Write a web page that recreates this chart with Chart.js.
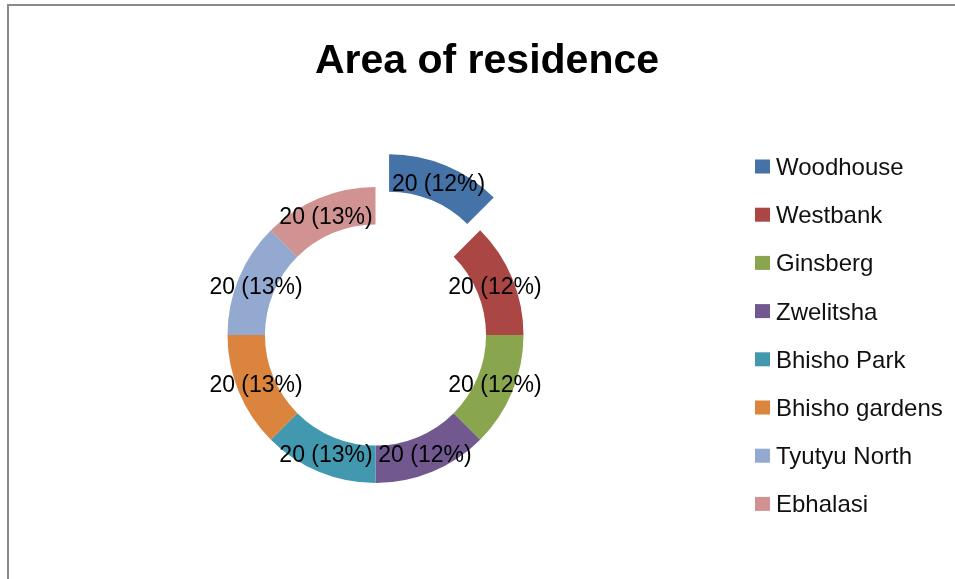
<!DOCTYPE html>
<html>
<head>
<meta charset="utf-8">
<title>Area of residence</title>
<script src="https://cdn.jsdelivr.net/npm/chart.js@4.4.1/dist/chart.umd.min.js"></script>
<style>
  html, body { margin: 0; padding: 0; background: #ffffff; }
  #wrap { position: relative; width: 955px; height: 579px; }
</style>
</head>
<body>
<div id="wrap"><canvas id="c" width="955" height="579"></canvas></div>
<script>
// Respondents by area of residence
const areas = ['Woodhouse', 'Westbank', 'Ginsberg', 'Zwelitsha', 'Bhisho Park', 'Bhisho gardens', 'Tyutyu North', 'Ebhalasi'];
const respondents = [20, 20, 20, 20, 20, 20, 20, 20];
const sharePercent = [12, 12, 12, 12, 13, 13, 13, 13];
const chartTitle = 'Area of residence';

const colours = ['#4572A7', '#AA4643', '#89A54E', '#71588F', '#4198AF', '#DB843D', '#93A9CF', '#D19392'];
// distance (px) a segment is pulled out of the ring
const explodeDistance = [35.5, 0, 0, 0, 0, 0, 0, 0];

const FONT = '"Liberation Sans", Arial, sans-serif';

// White background and the grey frame around the chart
const framePlugin = {
  id: 'frame',
  beforeDraw(chart) {
    const ctx = chart.ctx;
    ctx.save();
    ctx.fillStyle = '#ffffff';
    ctx.fillRect(0, 0, chart.width, chart.height);
    ctx.strokeStyle = '#8a8a8a';
    ctx.lineWidth = 2;
    ctx.beginPath();
    ctx.moveTo(8, chart.height + 5);
    ctx.lineTo(8, 5);
    ctx.lineTo(chart.width + 5, 5);
    ctx.stroke();
    ctx.restore();
  }
};

// Pull exploded segments outward along their middle angle, keeping their radii
const explodePlugin = {
  id: 'explode',
  afterDatasetUpdate(chart, args) {
    args.meta.data.forEach((arc, i) => {
      const d = explodeDistance[i] || 0;
      if (!d) return;
      const mid = (arc.startAngle + arc.endAngle) / 2;
      arc.x += Math.cos(mid) * d;
      arc.y += Math.sin(mid) * d;
    });
  }
};

// "value (share%)" written in the middle of each ring segment
const sliceLabelPlugin = {
  id: 'sliceLabels',
  afterDatasetsDraw(chart) {
    const ctx = chart.ctx;
    const meta = chart.getDatasetMeta(0);
    const values = chart.data.datasets[0].data;
    ctx.save();
    ctx.font = '23px ' + FONT;
    ctx.fillStyle = '#000000';
    ctx.textAlign = 'center';
    ctx.textBaseline = 'alphabetic';
    meta.data.forEach((arc, i) => {
      const mid = (arc.startAngle + arc.endAngle) / 2;
      const r = (arc.innerRadius + arc.outerRadius) / 2;
      const lx = arc.x + Math.cos(mid) * r;
      const ly = arc.y + Math.sin(mid) * r;
      ctx.fillText(values[i] + ' (' + sharePercent[i] + '%)', lx, ly + 8);
    });
    ctx.restore();
  }
};

// Title and the legend column on the right
const headerLegendPlugin = {
  id: 'headerLegend',
  afterDraw(chart) {
    const ctx = chart.ctx;
    const ds = chart.data.datasets[0];
    ctx.save();
    ctx.fillStyle = '#000000';
    ctx.font = 'bold 41px ' + FONT;
    ctx.textAlign = 'center';
    ctx.textBaseline = 'alphabetic';
    ctx.fillText(chartTitle, 487, 73);

    ctx.font = '24px ' + FONT;
    ctx.textAlign = 'left';
    chart.data.labels.forEach((label, i) => {
      const cy = 166.5 + i * 48.2;
      ctx.fillStyle = ds.backgroundColor[i];
      ctx.fillRect(755, cy - 7, 15, 14);
      ctx.fillStyle = '#111111';
      ctx.fillText(label, 776, cy + 8.5);
    });
    ctx.restore();
  }
};

new Chart(document.getElementById('c'), {
  type: 'doughnut',
  data: {
    labels: areas,
    datasets: [{
      data: respondents,
      backgroundColor: colours,
      borderWidth: 0
    }]
  },
  options: {
    responsive: false,
    devicePixelRatio: 1,
    animation: false,
    radius: 148,
    cutout: '74.7%',
    layout: { padding: { left: 0, right: 204, top: 91, bottom: 0 } },
    plugins: {
      legend: { display: false },
      title: { display: false },
      tooltip: { enabled: false }
    }
  },
  plugins: [framePlugin, explodePlugin, sliceLabelPlugin, headerLegendPlugin]
});
</script>
</body>
</html>
